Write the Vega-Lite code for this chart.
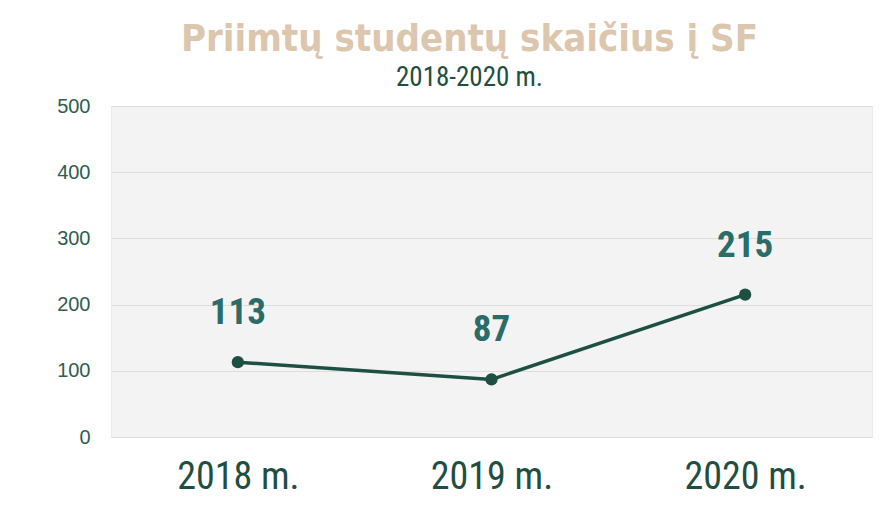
{
  "$schema": "https://vega.github.io/schema/vega-lite/v6.json",
  "width": 761,
  "height": 331,
  "autosize": {"type": "none"},
  "padding": {"left": 111, "top": 106, "right": 13, "bottom": 74},
  "background": "white",
  "title": {
    "text": "Priimtų studentų skaičius į SF",
    "subtitle": "2018-2020  m.",
    "anchor": "middle",
    "dx": -22,
    "offset": 5,
    "font": "DejaVu Sans Condensed, Roboto, sans-serif",
    "fontSize": 38,
    "fontWeight": "bold",
    "color": "#dcc6ae",
    "subtitleFont": "Roboto Condensed, Roboto, sans-serif",
    "subtitleFontSize": 27,
    "subtitleColor": "#1f4e42",
    "subtitlePadding": 6
  },
  "data": {
    "values": [
      {"year": "2018 m.", "count": 113},
      {"year": "2019 m.", "count": 87},
      {"year": "2020 m.", "count": 215}
    ]
  },
  "encoding": {
    "x": {
      "field": "year",
      "type": "ordinal",
      "scale": {"paddingInner": 0, "paddingOuter": 0},
      "axis": {
        "title": null,
        "labelAngle": 0,
        "domain": false,
        "ticks": false,
        "tickSize": 0,
        "grid": false,
        "labelFont": "Roboto Condensed, Roboto, sans-serif",
        "labelFontSize": 38,
        "labelColor": "#1f4e42",
        "labelBaseline": "middle",
        "labelPadding": 40
      }
    },
    "y": {
      "field": "count",
      "type": "quantitative",
      "scale": {"domain": [0, 500]},
      "axis": {
        "title": null,
        "values": [0, 100, 200, 300, 400, 500],
        "domain": false,
        "ticks": false,
        "tickSize": 0,
        "labelFont": "Liberation Sans",
        "labelFontSize": 20,
        "labelColor": "#2e5d50",
        "labelPadding": 21,
        "gridColor": "#e2dcd8",
        "gridWidth": 1
      }
    }
  },
  "layer": [
    {
      "mark": {"type": "line", "color": "#1d4f43", "strokeWidth": 3.5}
    },
    {
      "mark": {"type": "point", "filled": true, "color": "#1d4f43", "size": 150, "opacity": 1}
    },
    {
      "mark": {
        "type": "text",
        "dy": -49,
        "baseline": "middle",
        "font": "Roboto Condensed, Roboto, sans-serif",
        "fontWeight": "bold",
        "fontSize": 37,
        "color": "#2b6b68"
      },
      "encoding": {"text": {"field": "count", "type": "quantitative"}}
    }
  ],
  "config": {
    "view": {"fill": "#f3f3f3", "stroke": "#ebebeb"}
  }
}
